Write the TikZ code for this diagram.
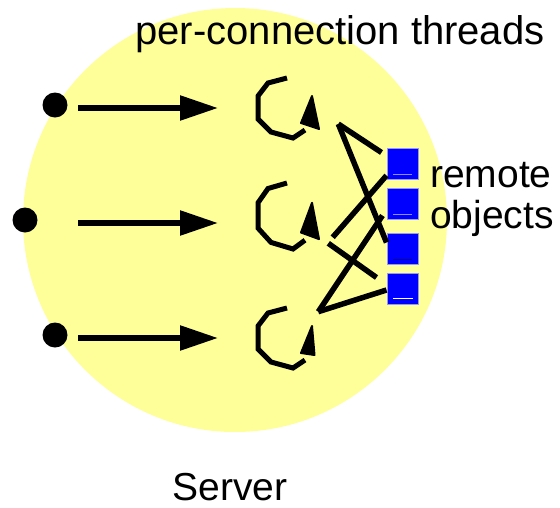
\documentclass[tikz,border=0pt]{standalone}
\usepackage{fontspec}
\setmainfont{Liberation Sans}
\usepackage{tikz}
\usetikzlibrary{arrows.meta}

\definecolor{serverfill}{RGB}{255,255,153}
\definecolor{objblue}{RGB}{0,0,255}
\definecolor{objedge}{RGB}{150,150,255}

\tikzset{
  dot/.style={circle, fill=black, minimum size=25pt, inner sep=0pt},
  flow/.style={line width=5.5pt, -{Triangle[length=38pt, width=24pt]}},
  link/.style={line width=5.5pt},
  threadline/.style={line width=5pt, line join=miter},
  obj/.style={rectangle, fill=objblue, draw=objedge, line width=1pt,
              minimum size=31pt, inner sep=0pt},
  lbl/.style={font=\fontsize{39}{41}\selectfont, inner sep=0pt},
  pics/thread/.style={code={
    \draw[threadline] (0,0) -- (-19,5) -- (-29,18) -- (-29,41)
      -- (-16,54) -- (6,60) -- (18,52);
    \filldraw[line width=2pt, line join=round]
      (25,18) -- (14,45) -- (#1) -- cycle;
  }}
}

\begin{document}
\begin{tikzpicture}[x=1pt, y=-1pt]
\useasboundingbox (0,0) rectangle (560,507);

% ----- server -----
\fill[serverfill] (235,220) circle (212);
\node[lbl, anchor=base] (server) at (230,500) {Server};

% ----- clients and incoming connections -----
\foreach \i/\cx/\ay in {1/55/108, 2/25/223, 3/55/338} {
  \node[dot] (c\i) at (\cx,\ay-3) {};
  \coordinate (a\i) at (78,\ay);
  \coordinate (b\i) at (218,\ay);
  \draw[flow] (a\i) -- (b\i);
}

% ----- per-connection threads -----
\pic at (287,78) {thread={32,51}};
\pic[yscale=1.1] at (287,183) {thread={32,51}};
\pic at (287,308) {thread={27.5,47}};
\node[lbl, font=\fontsize{40}{42}\selectfont, anchor=base] (threads)
  at (340,44) {per-connection threads};

% ----- remote objects -----
\foreach \i/\oy in {1/163.5, 2/203.5, 3/248.5, 4/288.5}
  \node[obj] (o\i) at (402.5,\oy) {};
\draw[objblue!45!white, line width=0.8pt] (393,174) -- (412,174);
\draw[objblue!45!white, line width=0.8pt] (393,214) -- (412,214);
\draw[objblue!60!black, line width=0.8pt] (393,259) -- (412,259);
\draw[white, line width=1pt] (393,298) -- (413,298);
\node[lbl, anchor=base west] (remote) at (430,187) {remote};
\node[lbl, anchor=base west] (objects) at (430,228) {objects};

% ----- thread to object links -----
\coordinate (s1) at (338.3,124);
\coordinate (s2a) at (332.7,237.3);
\coordinate (s2b) at (328.3,243.3);
\coordinate (s3) at (318.3,311.7);
\draw[link] (s1) -- ([xshift=-5pt, yshift=11pt]o1.west);
\draw[link] (s1) -- ([yshift=6pt]o3.west);
\draw[link] (s2a) -- ([yshift=4pt]o1.south west);
\draw[link] (s2b) -- ([xshift=-10pt, yshift=11pt]o4.west);
\draw[link] (s3) -- ([xshift=-4pt, yshift=4pt]o2.south west);
\draw[link] (s3) -- ([yshift=-1.5pt]o4.west);
\end{tikzpicture}
\end{document}
